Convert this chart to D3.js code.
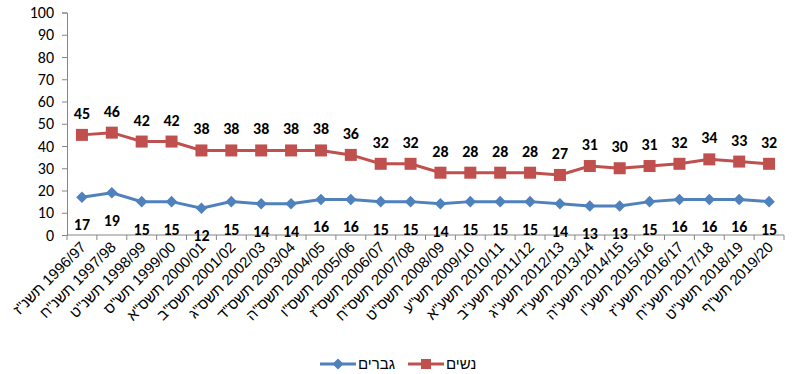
<!DOCTYPE html>
<html>
<head>
<meta charset="utf-8">
<script src="https://cdn.jsdelivr.net/npm/d3@7"></script>
<style>
  body { margin: 0; background: #fff; }
  svg { display: block; }
</style>
</head>
<body>
<svg id="chart"></svg>
<script>
// Data
const years = ["1996/97","1997/98","1998/99","1999/00","2000/01","2001/02","2002/03","2003/04",
  "2004/05","2005/06","2006/07","2007/08","2008/09","2009/10","2010/11","2011/12",
  "2012/13","2013/14","2014/15","2015/16","2016/17","2017/18","2018/19","2019/20"];
const hebrewYears = ["תשנ\"ז","תשנ\"ח","תשנ\"ט","תש\"ס","תשס\"א","תשס\"ב","תשס\"ג","תשס\"ד",
  "תשס\"ה","תשס\"ו","תשס\"ז","תשס\"ח","תשס\"ט","תש\"ע","תשע\"א","תשע\"ב",
  "תשע\"ג","תשע\"ד","תשע\"ה","תשע\"ו","תשע\"ז","תשע\"ח","תשע\"ט","תש\"ף"];
const women = [45,46,42,42,38,38,38,38,38,36,32,32,28,28,28,28,27,31,30,31,32,34,33,32];
const men = [17,19,15,15,12,15,14,14,16,16,15,15,14,15,15,15,14,13,13,15,16,16,16,15];
const yTicks = [0,10,20,30,40,50,60,70,80,90,100];

const svgWidth = 795, svgHeight = 374;
const margin = { top: 12.5, left: 67, right: 11, bottom: 139 };
const width = svgWidth - margin.left - margin.right;
const height = svgHeight - margin.top - margin.bottom;
const font = "Calibri, Carlito, 'Liberation Sans', Arial, sans-serif";

const svg = d3.select("#chart")
  .attr("width", svgWidth)
  .attr("height", svgHeight)
  .append("g")
  .attr("transform", `translate(${margin.left},${margin.top})`);

const x = d3.scaleBand().domain(years).range([0, width]);
const y = d3.scaleLinear().domain([0, 100]).range([height, 0]);
const cx = d => x(d) + x.bandwidth() / 2;

// Y axis
const yAxis = svg.append("g")
  .call(d3.axisLeft(y).tickValues(yTicks).tickSize(5).tickPadding(8));
yAxis.selectAll("text")
  .attr("font-family", font)
  .attr("font-size", 16).attr("fill", "#000");
yAxis.selectAll("line, path").attr("stroke", "#868686");

// X axis with ticks at band boundaries
const xAxis = svg.append("g").attr("transform", `translate(0,${height})`);
xAxis.append("line").attr("x1", 0).attr("x2", width).attr("stroke", "#868686");
xAxis.selectAll("line.tick")
  .data(d3.range(years.length + 1))
  .join("line")
  .attr("class", "tick")
  .attr("x1", i => i * x.bandwidth()).attr("x2", i => i * x.bandwidth())
  .attr("y1", 0).attr("y2", 5)
  .attr("stroke", "#868686");
xAxis.selectAll("text.lbl")
  .data(years)
  .join("text")
  .attr("class", "lbl")
  .attr("text-anchor", "end")
  .attr("direction", "ltr")
  .attr("transform", d => `translate(${cx(d) + 5},${13}) rotate(-45)`)
  .attr("font-family", "Arial, 'Liberation Sans', sans-serif")
  .attr("font-size", 15)
  .attr("fill", "#000")
  .text((d, i) => "\u200E" + hebrewYears[i] + "\u200E " + d);

// Lines
const line = d3.line().x((d, i) => cx(years[i])).y(d => y(d));
svg.append("path").datum(men).attr("d", line)
  .attr("fill", "none").attr("stroke", "#4F81BD").attr("stroke-width", 3);
svg.append("path").datum(women).attr("d", line)
  .attr("fill", "none").attr("stroke", "#C0504D").attr("stroke-width", 3);

// Markers
svg.selectAll("path.diamond").data(men).join("path")
  .attr("class", "diamond")
  .attr("d", d3.symbol(d3.symbolDiamond2, 85)())
  .attr("transform", (d, i) => `translate(${cx(years[i])},${y(d)})`)
  .attr("fill", "#4F81BD");
svg.selectAll("rect.square").data(women).join("rect")
  .attr("class", "square")
  .attr("x", (d, i) => cx(years[i]) - 6).attr("y", d => y(d) - 6)
  .attr("width", 12).attr("height", 12)
  .attr("fill", "#C0504D");

// Data labels
svg.selectAll("text.wl").data(women).join("text")
  .attr("class", "wl")
  .attr("x", (d, i) => cx(years[i])).attr("y", d => y(d) - 16)
  .attr("text-anchor", "middle")
  .attr("font-family", font).attr("font-size", 16).attr("font-weight", "bold")
  .text(d => d);
svg.selectAll("text.ml").data(men).join("text")
  .attr("class", "ml")
  .attr("x", (d, i) => cx(years[i])).attr("y", d => y(d) + 33)
  .attr("text-anchor", "middle")
  .attr("font-family", font).attr("font-size", 16).attr("font-weight", "bold")
  .text(d => d);

// Legend
const legend = d3.select("#chart").append("g").attr("transform", "translate(0,364)");
legend.append("line").attr("x1", 320).attr("x2", 356).attr("stroke", "#4F81BD").attr("stroke-width", 3);
legend.append("path").attr("d", d3.symbol(d3.symbolDiamond2, 80)())
  .attr("transform", "translate(338,0)").attr("fill", "#4F81BD");
legend.append("text").attr("x", 358).attr("y", 5).attr("font-family", font)
  .attr("font-size", 15).text("גברים");
legend.append("line").attr("x1", 408).attr("x2", 444).attr("stroke", "#C0504D").attr("stroke-width", 3);
legend.append("rect").attr("x", 421).attr("y", -5).attr("width", 10).attr("height", 10).attr("fill", "#C0504D");
legend.append("text").attr("x", 446).attr("y", 5).attr("font-family", font)
  .attr("font-size", 15).text("נשים");
</script>
</body>
</html>
